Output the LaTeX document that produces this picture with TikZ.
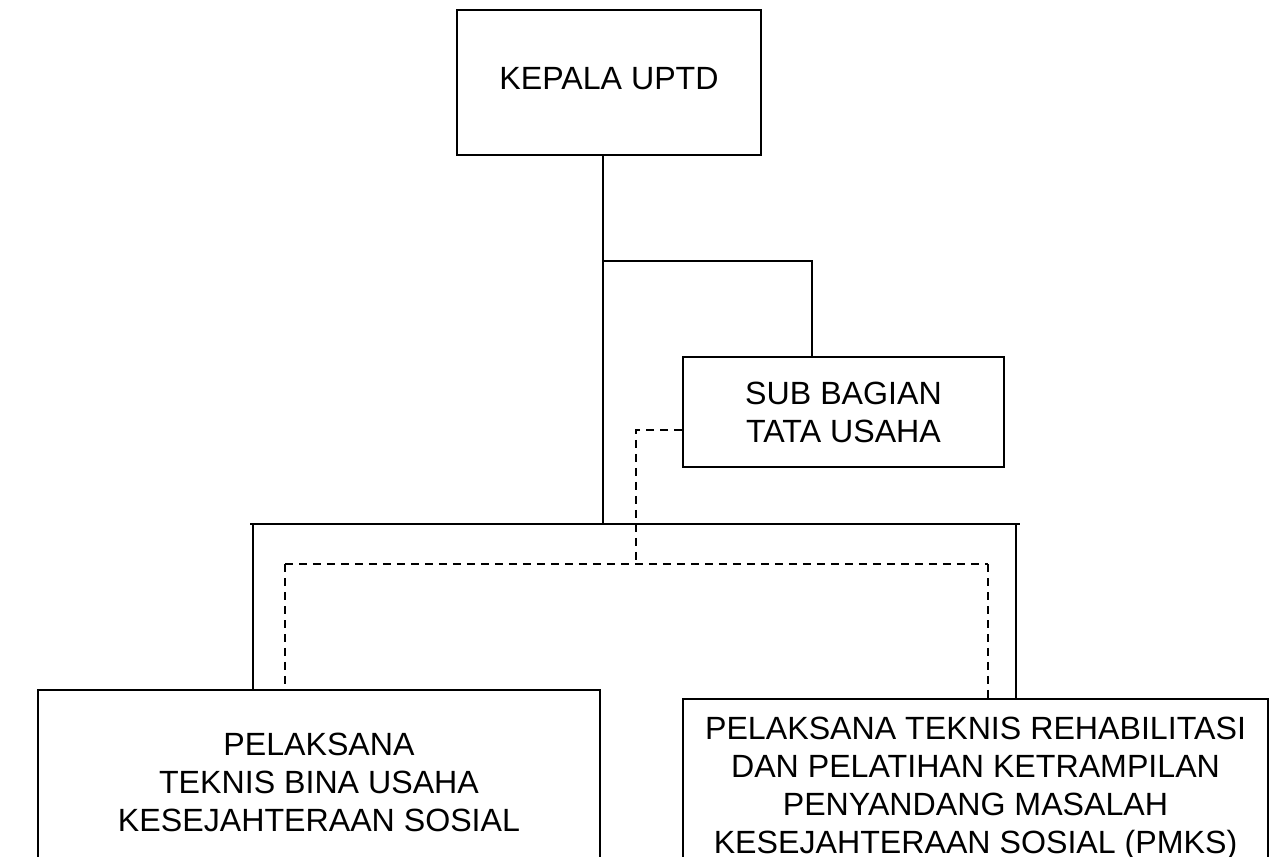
\documentclass[tikz,border=0pt]{standalone}
\usepackage{fontspec}
\setmainfont{Liberation Sans}
\begin{document}
\begin{tikzpicture}[x=0.02cm,y=-0.02cm,
  box/.style={draw,line width=1.1pt,rectangle,align=center,inner sep=0pt,
    font=\fontsize{18.3}{21.6}\selectfont},
  conn/.style={line width=1.1pt},
  dconn/.style={line width=1.1pt,dash pattern=on 0.16cm off 0.12cm}]
\useasboundingbox (0,0) rectangle (1273,856);
\clip (0,0) rectangle (1273,856);
\node[box,minimum width=304*0.02cm,minimum height=145*0.02cm,text depth=0.45em] (kepala) at (609,82.5) {KEPALA UPTD};
\node[box,minimum width=321*0.02cm,minimum height=110*0.02cm] (sub) at (843.5,412) {SUB BAGIAN\\TATA USAHA};
\node[box,minimum width=562*0.02cm,minimum height=184*0.02cm] (left) at (319,782) {PELAKSANA\\TEKNIS BINA USAHA\\KESEJAHTERAAN SOSIAL};
\node[box,minimum width=585*0.02cm,minimum height=180*0.02cm] (right) at (975.5,789) {PELAKSANA TEKNIS REHABILITASI\\DAN PELATIHAN KETRAMPILAN\\PENYANDANG MASALAH\\KESEJAHTERAAN SOSIAL (PMKS)};
\coordinate (j1) at (603,261);
\coordinate (j2) at (603,524);
\coordinate (hl) at (250,524);
\coordinate (hr) at (1020,524);
\coordinate (vl) at (253,524);
\coordinate (vr) at (1016,524);
\coordinate (d1) at (636,430);
\coordinate (d2) at (636,564);
\coordinate (dl) at (285,564);
\coordinate (dr) at (988,564);
\draw[conn] (kepala.south -| j1) -- (j2);
\draw[conn] (j1) -| (sub.north -| 812,0);
\draw[conn] (hl) -- (hr);
\draw[conn] (vl) -- (vl |- left.north);
\draw[conn] (vr) -- (vr |- right.north);
\draw[dconn] (sub.west |- d1) -- (d1) -- (d2);
\draw[dconn] (dl) -- (dr);
\draw[dconn] (dl) -- (dl |- left.north);
\draw[dconn] (dr) -- (dr |- right.north);
\end{tikzpicture}
\end{document}
